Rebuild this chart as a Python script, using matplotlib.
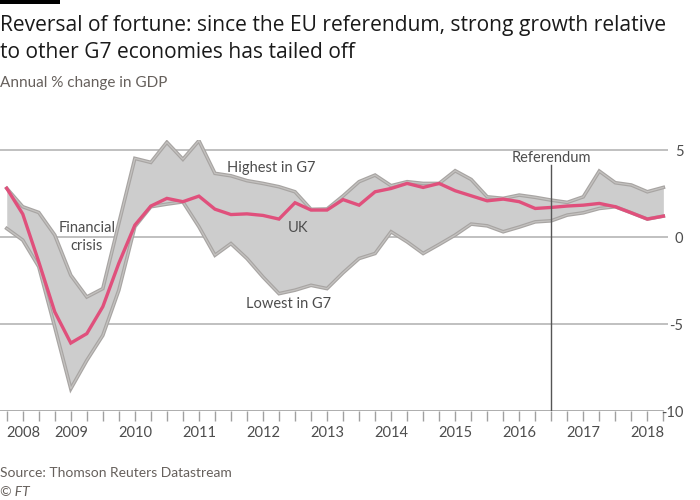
import matplotlib
matplotlib.use("Agg")
import matplotlib.pyplot as plt
from matplotlib.patches import Rectangle

plt.rcParams['font.family'] = ['Lato', 'DejaVu Sans']

# Quarterly data, 2008 Q1 .. 2018 Q2
quarters = list(range(42))
uk = [2.81, 1.33, -1.42, -4.3, -6.09, -5.55, -4.0, -1.5, 0.69, 1.79, 2.23, 2.04, 2.36, 1.61,
      1.3, 1.34, 1.25, 1.04, 1.98, 1.56, 1.56, 2.16, 1.84, 2.61, 2.8, 3.09, 2.86, 3.09,
      2.67, 2.38, 2.09, 2.19, 2.04, 1.65, 1.71, 1.79, 1.84, 1.94, 1.75, 1.40, 1.04, 1.21]
high = [2.81, 1.75, 1.42, 0.12, -2.19, -3.44, -2.96, 0.8, 4.53, 4.3, 5.46, 4.48, 5.55, 3.67,
        3.53, 3.25, 3.09, 2.9, 2.61, 1.6, 1.62, 2.37, 3.19, 3.57, 2.96, 3.19, 3.09, 3.09,
        3.82, 3.32, 2.32, 2.23, 2.42, 2.29, 2.13, 2.0, 2.32, 3.8, 3.13, 3.0, 2.61, 2.86]
low = [0.5, -0.17, -1.7, -5.17, -8.72, -7.09, -5.65, -3.05, 0.6, 1.75, 1.9, 2.03, 0.6, -1.04,
       -0.37, -1.23, -2.29, -3.25, -3.05, -2.77, -2.96, -2.05, -1.23, -0.94, 0.31, -0.27,
       -0.94, -0.42, 0.12, 0.75, 0.65, 0.31, 0.58, 0.88, 0.94, 1.27, 1.4, 1.65, 1.75, 1.40,
       1.04, 1.21]
year_labels = ['2008', '2009', '2010', '2011', '2012', '2013', '2014', '2015', '2016',
               '2017', '2018']
year_positions = [0, 4, 8, 12, 16, 20, 24, 28, 32, 36, 40]
yticks = [5, 0, -5, -10]
referendum_q = 34

TXT = '#4d4d4d'
GREY = '#66605c'

fig = plt.figure(figsize=(7, 5), dpi=100)
fig.patch.set_facecolor('white')
ax = fig.add_axes([0.0, 0.178, 668 / 700, 0.5424])
ax.set_facecolor('white')

ax.set_xlim(-0.42, 41.29)
ax.set_ylim(-10, 5.6)

for y in yticks[:-1]:
    ax.axhline(y, color='#b5b5b5', lw=1.2, zorder=1)

ax.fill_between(quarters, low, high, color='#cdcdcd', lw=0, zorder=2)
for s in (high, low):
    ax.plot(quarters, s, color='#a8a5a3', lw=2.6, zorder=3, solid_joinstyle='miter')
    ax.plot(quarters, s, color='#c4c2c0', lw=0.9, zorder=3, solid_joinstyle='miter')
ax.plot(quarters, uk, color='#e0507c', lw=2.4, zorder=5, solid_joinstyle='miter')

ax.axvline(referendum_q, ymin=0, ymax=(4.15 + 10) / 15.6, color='#555555', lw=1.0, zorder=6)
ax.text(referendum_q, 4.3, 'Referendum', ha='center', va='baseline', fontsize=10.5,
        color=TXT)

for sp in ax.spines.values():
    sp.set_visible(False)
ax.axhline(-10, xmin=0, xmax=(41.0 + 0.42) / 41.71, color='#a0a0a0', lw=1.2, zorder=1)

ax.set_xticks(quarters)
labels = [''] * len(quarters)
for p, l in zip(year_positions, year_labels):
    labels[p] = l
ax.set_xticklabels(labels, fontsize=10.5, color=TXT)
ax.tick_params(axis='x', length=7, width=1, color='#a0a0a0', pad=4)
ax.get_xticklabels()[0].set_horizontalalignment('left')

ax.yaxis.tick_right()
ax.set_yticks(yticks)
ax.set_yticklabels([str(v) for v in yticks], fontsize=10.5, color=TXT)
ax.tick_params(axis='y', length=0, pad=11)
for t in ax.get_yticklabels():
    t.set_horizontalalignment('right')

ax.text(5, 0.0, 'Financial\ncrisis', ha='center', va='center', fontsize=10.5,
        color=TXT, linespacing=1.4)
ax.text(16.5, 4.0, 'Highest in G7', ha='center', va='center', fontsize=10.5, color=TXT)
ax.text(18.2, 0.55, 'UK', ha='center', va='center', fontsize=10.5, color=TXT)
ax.text(17.6, -3.85, 'Lowest in G7', ha='center', va='center', fontsize=10.5, color=TXT)

fig.patches.append(Rectangle((0, 1 - 4 / 500), 60 / 700, 4 / 500, transform=fig.transFigure,
                             facecolor='black', edgecolor='none'))
fig.text(0.0, 1 - 31 / 500, 'Reversal of fortune: since the EU referendum, strong growth relative',
         fontsize=15.1, color='#1a1a1a', va='baseline', ha='left', family=['Open Sans', 'DejaVu Sans'])
fig.text(0.0, 1 - 58 / 500, 'to other G7 economies has tailed off',
         fontsize=15.1, color='#1a1a1a', va='baseline', ha='left', family=['Open Sans', 'DejaVu Sans'])
fig.text(0.0, 1 - 87.5 / 500, 'Annual % change in GDP', fontsize=11, color=GREY,
         va='baseline', ha='left')
fig.text(0.0, 1 - 477 / 500, 'Source: Thomson Reuters Datastream', fontsize=10,
         color=GREY, va='baseline', ha='left')
fig.text(0.0, 1 - 495.5 / 500, '© FT', fontsize=10, color=GREY, va='baseline', ha='left',
         style='italic')

fig.savefig('out.png', dpi=100, facecolor='white')
